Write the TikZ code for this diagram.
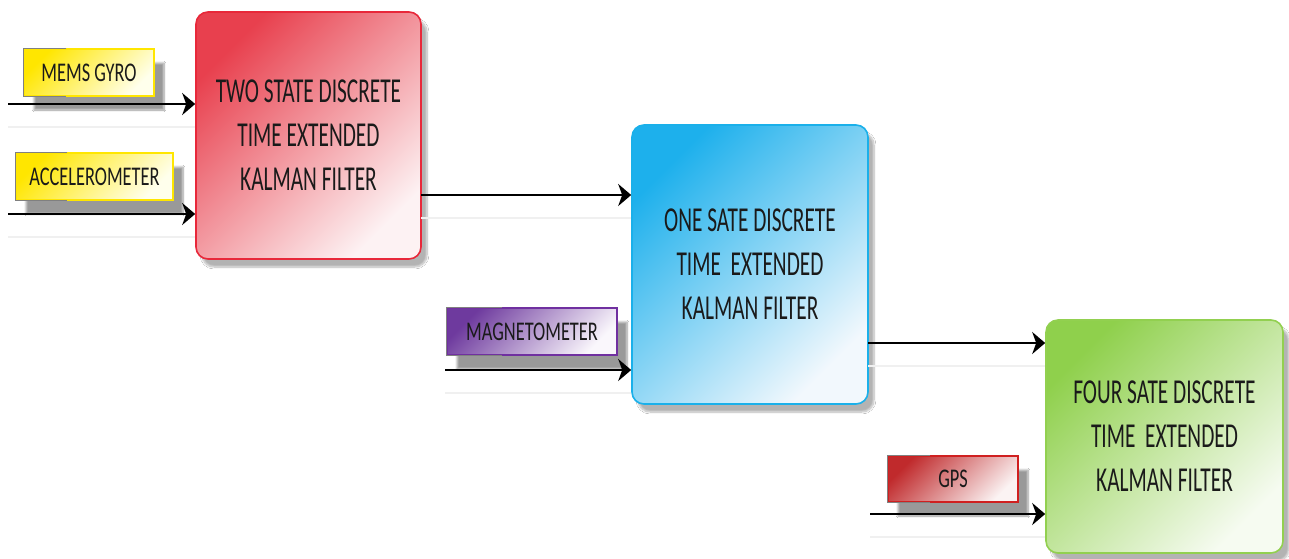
\documentclass[tikz,border=0pt]{standalone}
\usepackage{fontspec}
\setmainfont{Carlito}
\newfontfamily\boxfont[FakeStretch=0.61]{Carlito}
\newfontfamily\lblfont[FakeStretch=0.68]{Carlito}
\usetikzlibrary{arrows.meta,calc,shadows.blur}
\definecolor{redA}{HTML}{E8404E}
\definecolor{redB}{HTML}{FDF2F3}
\definecolor{redL}{HTML}{E8283A}
\definecolor{bluA}{HTML}{1DB0EC}
\definecolor{bluB}{HTML}{F2F8FD}
\definecolor{bluL}{HTML}{1AB0EA}
\definecolor{grnA}{HTML}{8FD04C}
\definecolor{grnB}{HTML}{F6FBF1}
\definecolor{grnL}{HTML}{92D050}
\definecolor{yelA}{HTML}{FFE600}
\definecolor{yelM}{HTML}{FFFB9A}
\definecolor{yelB}{HTML}{FFFFEC}
\definecolor{yelL}{HTML}{FFE600}
\definecolor{purA}{HTML}{6E3A9E}
\definecolor{purM}{HTML}{C6B2DA}
\definecolor{purB}{HTML}{FAF7FC}
\definecolor{purL}{HTML}{7030A0}
\definecolor{gpsA}{HTML}{C02A2C}
\definecolor{gpsM}{HTML}{E2A4A5}
\definecolor{gpsB}{HTML}{FBF3F3}
\definecolor{gpsL}{HTML}{D02020}
\definecolor{txt}{HTML}{1A1A1A}
\tikzset{
  kbox/.style={rectangle, rounded corners=12pt, line width=1.6pt,
    align=center, font=\boxfont\fontsize{35}{44}\selectfont, text=txt,
    blur shadow={shadow xshift=6pt, shadow yshift=-8pt, shadow opacity=30, shadow blur steps=8}},
  lbl/.style={rectangle, line width=1.2pt,
    font=\lblfont\fontsize{27}{30}\selectfont, text=txt, inner sep=0pt,
    blur shadow={shadow xshift=10pt, shadow yshift=-14pt, shadow opacity=40, shadow blur steps=8}},
  arr/.style={line width=2pt, -{Stealth[length=13pt,width=22pt,inset=4pt]},
    preaction={draw=black!6, line width=1.2pt, -, transform canvas={yshift=-23pt}}},
  greyedge/.style={draw=black!50, line width=1.2pt}
}
\begin{document}
\begin{tikzpicture}[x=1pt,y=-1pt]
\useasboundingbox[fill=white] (0,0) rectangle (1289,558);

% filter boxes
\node[kbox, draw=redL, top color=redA, bottom color=redB, shading angle=45, minimum width=225pt, minimum height=247pt]
  (red) at (308.5,135.5) {TWO STATE DISCRETE\\TIME EXTENDED\\KALMAN FILTER};
\node[kbox, draw=bluL, top color=bluA, bottom color=bluB, shading angle=45, minimum width=236pt, minimum height=279pt]
  (blue) at (750,264.5) {ONE SATE DISCRETE\\TIME\ \ EXTENDED\\KALMAN FILTER};
\node[kbox, draw=grnL, top color=grnA, bottom color=grnB, shading angle=45, minimum width=237pt, minimum height=233pt]
  (green) at (1164.5,436.5) {FOUR SATE DISCRETE\\TIME\ \ EXTENDED\\KALMAN FILTER};

% sensor labels
\node[lbl, draw=yelL, top color=yelA, middle color=yelM, bottom color=yelB, shading angle=45, minimum width=130pt, minimum height=47pt]
  (gyro) at (89,72.5) {MEMS GYRO};
\draw[greyedge] ($(gyro.north west)+(43,0)$) -- (gyro.north west) -- (gyro.south west) -- ++(43,0);
\node[lbl, draw=yelL, top color=yelA, middle color=yelM, bottom color=yelB, shading angle=45, minimum width=157pt, minimum height=47pt]
  (acc) at (94.5,176.5) {ACCELEROMETER};
\draw[greyedge] ($(acc.north west)+(52,0)$) -- (acc.north west) -- (acc.south west) -- ++(52,0);
\node[lbl, draw=purL, top color=purA, middle color=purM, bottom color=purB, shading angle=45, minimum width=170pt, minimum height=47pt]
  (mag) at (532,331.5) {MAGNETOMETER};
\draw[greyedge] ($(mag.north west)+(56,0)$) -- (mag.north west) -- (mag.south west) -- ++(56,0);
\node[lbl, draw=gpsL, top color=gpsA, middle color=gpsM, bottom color=gpsB, shading angle=45, minimum width=130pt, minimum height=46pt]
  (gps) at (953,479) {GPS};
\draw[greyedge] ($(gps.north west)+(43,0)$) -- (gps.north west) -- (gps.south west) -- ++(43,0);

% free ends
\coordinate (gyroin) at (8,104);
\coordinate (accin) at (8,214);
\coordinate (magin) at (445,370);
\coordinate (gpsin) at (870,514);
\coordinate (redout) at (421,195);
\coordinate (blueout) at (868,343);

% connectors
\draw[arr] (gyroin) -- (red.west |- gyroin);
\draw[arr] (accin) -- (red.west |- accin);
\draw[arr] (redout) -- (blue.west |- redout);
\draw[arr] (magin) -- (blue.west |- magin);
\draw[arr] (blueout) -- (green.west |- blueout);
\draw[arr] (gpsin) -- (green.west |- gpsin);
\end{tikzpicture}
\end{document}
